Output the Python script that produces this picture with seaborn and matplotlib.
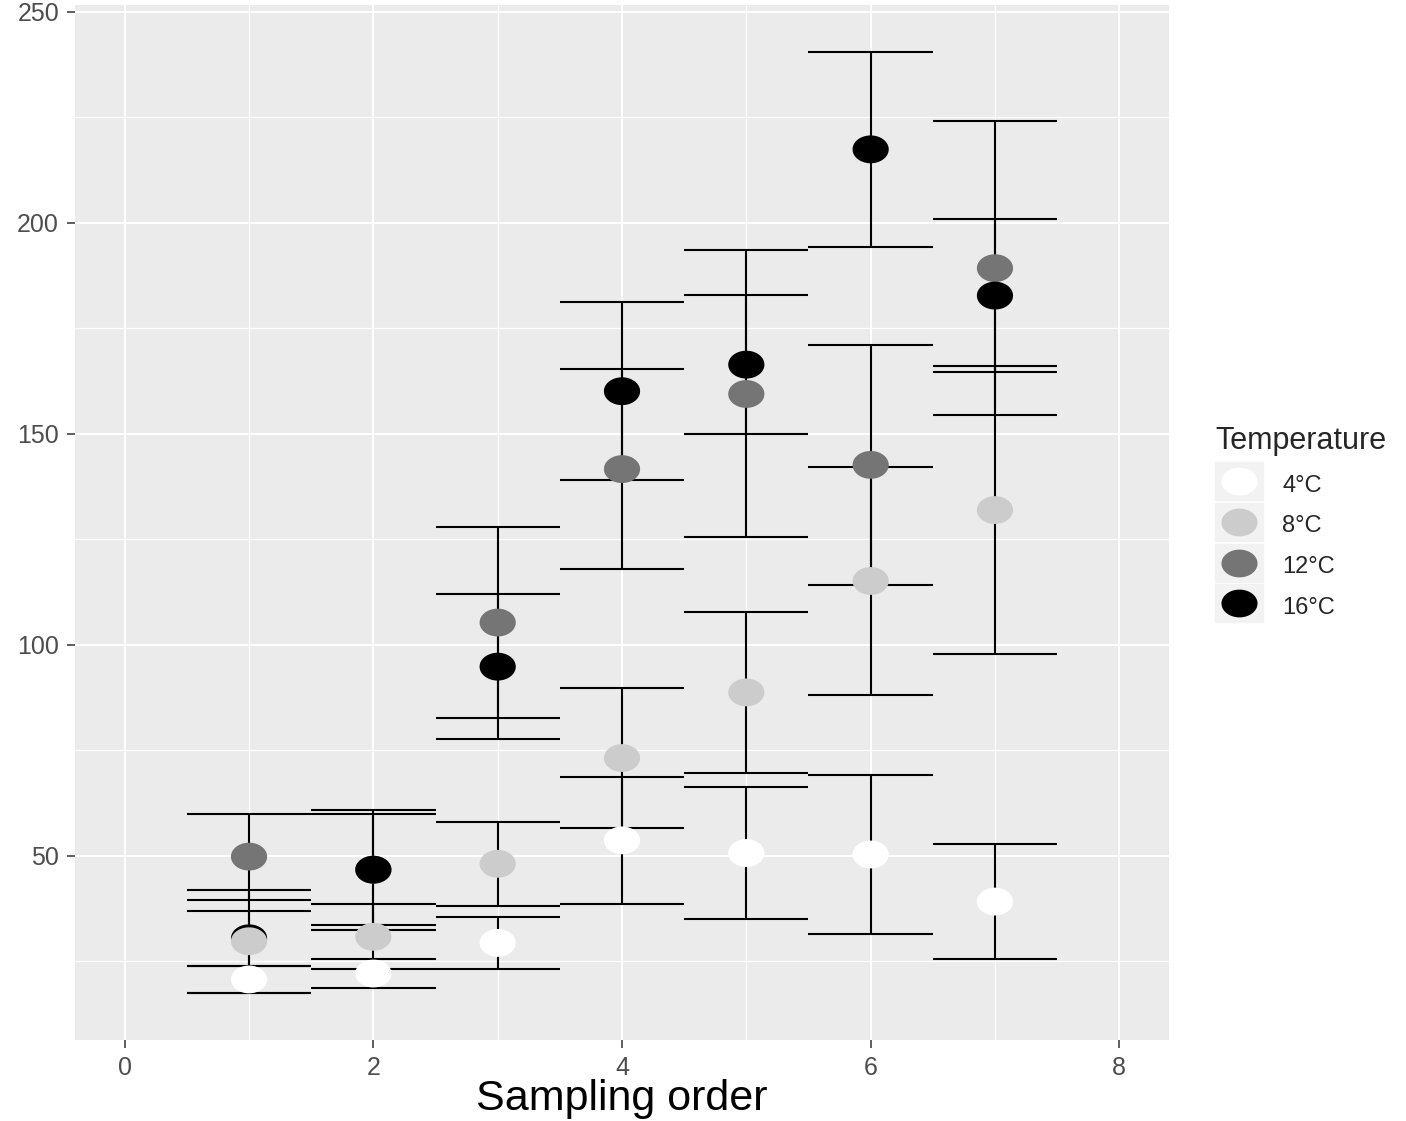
import numpy as np
import pandas as pd
import matplotlib
matplotlib.use("Agg")
import matplotlib.pyplot as plt
import seaborn as sns
from matplotlib.path import Path
from matplotlib.lines import Line2D
from matplotlib.legend_handler import HandlerTuple

# =========================
# DATA
# =========================
order = [1, 2, 3, 4, 5, 6, 7]
temps = ["4°C", "8°C", "12°C", "16°C"]
colors = ["#FFFFFF", "#CCCCCC", "#757575", "#000000"]

mean_4 = [20.7, 22.1, 29.35, 53.65, 50.65, 50.3, 39.15]
se_4 = [3.2, 3.4, 6.25, 15.05, 15.55, 18.9, 13.65]

mean_8 = [29.75, 30.8, 48.1, 73.15, 88.7, 115.1, 131.9]
se_8 = [12.25, 7.7, 10.0, 16.55, 19.0, 27.0, 34.2]

mean_12 = [49.8, 46.7, 105.25, 141.6, 159.4, 142.6, 189.2]
se_12 = [10.2, 14.2, 22.65, 23.7, 34.0, 28.5, 34.8]

mean_16 = [30.45, 46.7, 94.8, 160.05, 166.35, 217.35, 182.7]
se_16 = [6.55, 13.1, 17.2, 21.15, 16.55, 23.05, 18.2]

means = {"4°C": mean_4, "8°C": mean_8, "12°C": mean_12, "16°C": mean_16}
ses = {"4°C": se_4, "8°C": se_8, "12°C": se_12, "16°C": se_16}

# row order decides which point ends up on top
draw_order = ["4°C", "12°C", "16°C", "8°C"]
df = pd.concat([
    pd.DataFrame({"order": order, "value": means[t], "se": ses[t], "temp": t})
    for t in draw_order
], ignore_index=True)
df["lo"] = df["value"] - df["se"]
df["hi"] = df["value"] + df["se"]

# =========================
# STYLE
# =========================
sns.set_theme(style="darkgrid", rc={
    "axes.facecolor": "#EBEBEB",
    "grid.color": "white",
    "axes.edgecolor": "#EBEBEB",
})
plt.rcParams["font.family"] = ["Liberation Sans", "DejaVu Sans"]

# slightly wide ellipse marker, like the stretched ggplot points
t = np.linspace(0, 2 * np.pi, 60)
ellipse = Path(np.column_stack([0.65 * np.cos(t), 0.5 * np.sin(t)]), closed=True)
box = Path([(-0.615, -0.5), (0.615, -0.5), (0.615, 0.5), (-0.615, 0.5), (-0.615, -0.5)],
           closed=True)

fig = plt.figure(figsize=(14.06, 11.21), dpi=100)
ax = fig.add_axes([75 / 1406, 1 - 1040 / 1121, 1094 / 1406, 1035 / 1121])

# error bars (caps span +/- 0.5)
ax.vlines(df["order"], df["lo"], df["hi"], color="black", lw=1.5, zorder=2)
ax.hlines(df["lo"], df["order"] - 0.5, df["order"] + 0.5, color="black", lw=1.5, zorder=2)
ax.hlines(df["hi"], df["order"] - 0.5, df["order"] + 0.5, color="black", lw=1.5, zorder=2)

sns.scatterplot(data=df, x="order", y="value", hue="temp", hue_order=temps,
                palette=colors, marker=ellipse, s=680, linewidth=0,
                edgecolor="none", legend=False, zorder=3, ax=ax)

# limits with ggplot-style 5% expansion
ylo, yhi = df["lo"].min(), df["hi"].max()
pad = 0.05 * (yhi - ylo)
ax.set_ylim(ylo - pad, yhi + pad)
ax.set_xlim(0 - 0.4, 8 + 0.4)

ax.set_xticks([0, 2, 4, 6, 8])
ax.set_xticks([1, 3, 5, 7], minor=True)
ax.set_yticks([50, 100, 150, 200, 250])
ax.set_yticks([25, 75, 125, 175, 225], minor=True)
ax.grid(which="major", color="white", lw=1.5)
ax.grid(which="minor", color="white", lw=0.9)
ax.set_axisbelow(True)
for s in ax.spines.values():
    s.set_visible(False)

ax.tick_params(which="major", length=5.5, width=1.1, color="#333333",
               labelcolor="#4D4D4D", labelsize=18, pad=6,
               bottom=True, left=True)
ax.tick_params(which="minor", length=0)

ax.set_xlabel("Sampling order", fontsize=31, color="black", labelpad=-1)
ax.set_ylabel("")

# legend with grey key boxes
handles = [
    (Line2D([], [], marker=box, ms=34, color="#F2F2F2", ls=""),
     Line2D([], [], marker=ellipse, ms=26, mfc=c, mec=c, mew=0, ls=""))
    for c in colors
]
leg = fig.legend(handles, temps, handler_map={tuple: HandlerTuple(ndivide=1)},
                 title="Temperature", loc="upper left",
                 bbox_to_anchor=(1215 / 1406, 1 - 426 / 1121),
                 frameon=False, fontsize=17, title_fontsize=22,
                 handlelength=2.0, handleheight=1.3, labelspacing=0.63,
                 handletextpad=0.85, borderpad=0, borderaxespad=0,
                 alignment="left")

fig.savefig("out.png", dpi=100)
